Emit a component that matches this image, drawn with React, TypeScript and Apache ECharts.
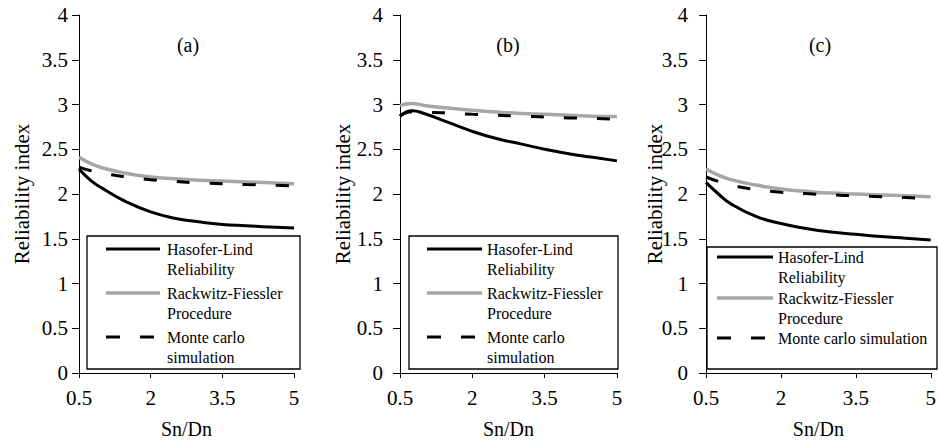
import React, { useEffect, useRef } from "react";
import * as echarts from "echarts";

const snDn = [0.5, 0.75, 1, 1.5, 2, 2.5, 3, 3.5, 4, 4.5, 5];
const xTicks = [0.5, 2, 3.5, 5];

const hlA = [2.28, 2.15, 2.06, 1.91, 1.8, 1.73, 1.69, 1.66, 1.645, 1.63, 1.62];
const rfA = [2.41, 2.34, 2.29, 2.23, 2.19, 2.17, 2.155, 2.145, 2.135, 2.125, 2.115];
const mcA = [2.3, 2.26, 2.23, 2.19, 2.16, 2.14, 2.125, 2.115, 2.105, 2.1, 2.09];

const hlB = [2.87, 2.93, 2.9, 2.8, 2.7, 2.62, 2.56, 2.5, 2.45, 2.41, 2.37];
const rfB = [2.99, 3.01, 2.99, 2.96, 2.935, 2.915, 2.9, 2.89, 2.88, 2.87, 2.865];
const mcB = [2.87, 2.92, 2.915, 2.905, 2.89, 2.88, 2.87, 2.86, 2.85, 2.845, 2.835];

const hlC = [2.13, 2.0, 1.89, 1.75, 1.67, 1.615, 1.575, 1.55, 1.525, 1.505, 1.485];
const rfC = [2.28, 2.21, 2.16, 2.1, 2.055, 2.03, 2.01, 2.0, 1.99, 1.98, 1.97];
const mcC = [2.19, 2.14, 2.1, 2.05, 2.02, 2.005, 1.99, 1.98, 1.97, 1.96, 1.95];

const panelLabels = ["(a)", "(b)", "(c)"];
const seriesNames = ["Hasofer-Lind Reliability", "Rackwitz-Fiessler Procedure", "Monte carlo simulation"];
const legendTextsAB = ["Hasofer-Lind\nReliability", "Rackwitz-Fiessler\nProcedure", "Monte carlo\nsimulation"];
const legendTextsC = ["Hasofer-Lind\nReliability", "Rackwitz-Fiessler\nProcedure", "Monte carlo simulation"];
const yTitle = "Reliability index";
const xTitle = "Sn/Dn";

const FONT = "Liberation Serif";
const GRAY = "#a6a6a6";

const lineStyles = [
  { color: "#000", width: 3, type: "solid" as any },
  { color: GRAY, width: 3.5, type: "solid" as any },
  { color: "#000", width: 3, type: [13, 20] as any },
];

const panels = [
  {
    data: [hlA, rfA, mcA],
    left: 79, width: 215, labelMargin: 11,
    titleX: 188, yTitleX: 22,
    legend: { x1: 87, x2: 300, y1: 236, y2: 369, lx1: 106, lx2: 160, tx: 167, ly: [249, 293, 337], texts: legendTextsAB },
  },
  {
    data: [hlB, rfB, mcB],
    left: 400, width: 217, labelMargin: 17,
    titleX: 508, yTitleX: 343,
    legend: { x1: 409, x2: 618, y1: 236, y2: 369, lx1: 427, lx2: 482, tx: 487, ly: [249, 293, 337], texts: legendTextsAB },
  },
  {
    data: [hlC, rfC, mcC],
    left: 706, width: 225, labelMargin: 18,
    titleX: 820, yTitleX: 655,
    legend: { x1: 707, x2: 937, y1: 247, y2: 369, lx1: 717, lx2: 773, tx: 778, ly: [257, 298, 338], texts: legendTextsC },
  },
];

const TOP = 15;
const HEIGHT = 360;

export default function App() {
  const ref = useRef<HTMLDivElement>(null);
  useEffect(() => {
    if (!ref.current) return;
    const chart = echarts.init(ref.current, undefined, { renderer: "svg" });

    const grid: any[] = [];
    const xAxis: any[] = [];
    const yAxis: any[] = [];
    const series: any[] = [];
    const graphic: any[] = [];

    panels.forEach((p, i) => {
      grid.push({ left: p.left, top: TOP, width: p.width, height: HEIGHT, containLabel: false });
      xAxis.push({
        type: "value", gridIndex: i, min: xTicks[0], max: xTicks[xTicks.length - 1], interval: 1.5,
        axisLine: { show: true, onZero: false, lineStyle: { color: "#000", width: 1 } },
        axisTick: { show: true, length: 5, lineStyle: { color: "#000" } },
        axisLabel: { fontFamily: FONT, fontSize: 21, color: "#000", margin: 14 },
        splitLine: { show: false },
        name: xTitle, nameLocation: "middle", nameGap: 46,
        nameTextStyle: { fontFamily: FONT, fontSize: 20, color: "#000" },
      });
      yAxis.push({
        type: "value", gridIndex: i, min: 0, max: 4, interval: 0.5,
        axisLine: { show: true, lineStyle: { color: "#000", width: 1 } },
        axisTick: { show: true, length: 7, lineStyle: { color: "#000" } },
        axisLabel: { fontFamily: FONT, fontSize: 21, color: "#000", margin: p.labelMargin },
        splitLine: { show: false },
      });
      p.data.forEach((vals, k) => {
        series.push({
          type: "line", name: seriesNames[k], xAxisIndex: i, yAxisIndex: i,
          data: snDn.map((x, j) => [x, vals[j]]),
          smooth: 0.5, showSymbol: false, symbol: "none",
          lineStyle: lineStyles[k], z: 2 + k,
        });
      });
      graphic.push({
        type: "text", x: p.titleX, y: 45, z: 10,
        style: { text: panelLabels[i], fontFamily: FONT, fontSize: 20, fill: "#000", align: "center", verticalAlign: "middle" },
      });
      graphic.push({
        type: "text", x: p.yTitleX, y: 194, rotation: Math.PI / 2, z: 10,
        style: { text: yTitle, fontFamily: FONT, fontSize: 21, fill: "#000", align: "center", verticalAlign: "middle" },
      });
      const L = p.legend;
      graphic.push({
        type: "rect", z: 20,
        shape: { x: L.x1, y: L.y1, width: L.x2 - L.x1, height: L.y2 - L.y1 },
        style: { fill: "#fff", stroke: "#000", lineWidth: 1.3 },
      });
      L.ly.forEach((ly, k) => {
        graphic.push({
          type: "line", z: 21,
          shape: { x1: L.lx1, y1: ly, x2: L.lx2, y2: ly },
          style: { stroke: lineStyles[k].color, lineWidth: lineStyles[k].width, lineDash: k === 2 ? [14, 20] : null },
        });
        graphic.push({
          type: "text", z: 21, x: L.tx, y: ly - 10,
          style: { text: L.texts[k], fontFamily: FONT, fontSize: 16, fill: "#000", lineHeight: 20, align: "left", verticalAlign: "top" },
        });
      });
    });

    chart.setOption({
      animation: false,
      backgroundColor: "#fff",
      textStyle: { fontFamily: FONT },
      grid, xAxis, yAxis, series, graphic,
    });
    return () => chart.dispose();
  }, []);
  return <div ref={ref} style={{ position: "fixed", left: 0, top: 0, width: 939, height: 444 }} />;
}
